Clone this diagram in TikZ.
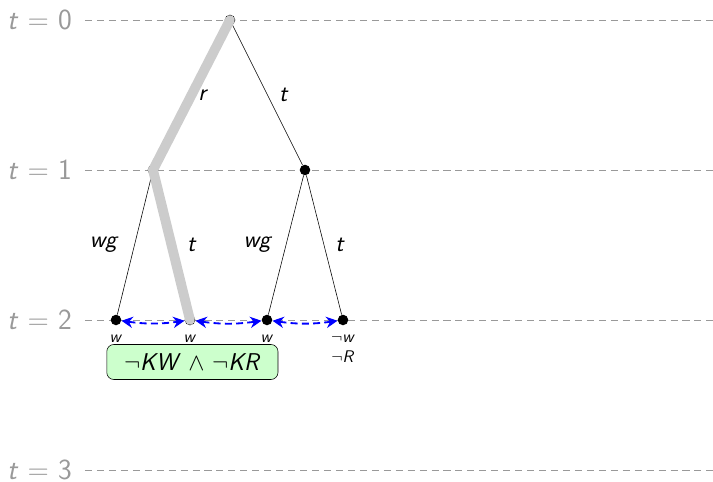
\documentclass[tikz,border=0pt]{standalone}
\usetikzlibrary{positioning,arrows.meta}
\newcommand{\sv}[1]{\textsl{#1}}
\begin{document}
\sffamily
\begin{tikzpicture}[
  dot/.style={circle, fill=black, inner sep=0pt, minimum size=7.5pt},
  levelline/.style={gray!80, dash pattern=on 5pt off 3.5pt, line width=0.6pt},
  levellabel/.style={gray!80, font=\huge\sffamily, anchor=east, inner sep=0pt},
  edgelabel/.style={font=\LARGE\sffamily},
  run/.style={line width=7pt, gray!40, line cap=round},
  indist/.style={<->, >={Stealth[length=8pt,width=8pt]}, blue, dash pattern=on 5pt off 3pt, line width=1.3pt, bend right=8},
  val/.style={font=\large\sffamily, align=center, inner sep=1pt},
  know/.style={draw, rounded corners=5pt, fill=green!20, font=\LARGE\sffamily, minimum width=4.28cm, minimum height=0.875cm, inner sep=1pt}
]
\useasboundingbox (-5.75,0.5) rectangle (12.075,-11.55);
% time levels
\foreach \i in {0,...,3}
  \draw[levelline] (-3.625,-3.75*\i) -- (12.075,-3.75*\i);
\foreach \i in {0,...,3}
  \node[levellabel] (lvl\i) at (-3.95,-3.75*\i) {\sv{t} = \i};
% states
\node[dot] (s0) at (0,0) {};
\node[dot] (s1) at (-1.925,-3.75) {};
\node[dot] (s2) at (1.875,-3.75) {};
\node[dot] (s3) at (-2.85,-7.5) {};
\node[dot] (s4) at (-1.0,-7.5) {};
\node[dot] (s5) at (0.925,-7.5) {};
\node[dot] (s6) at (2.825,-7.5) {};
% branches
\draw (s0) -- node[edgelabel, xshift=0.29cm] (l01) {\sv{r}} (s1);
\draw (s0) -- node[edgelabel, xshift=0.41cm] (l02) {\sv{t}} (s2);
\draw (s1) -- node[edgelabel, xshift=-0.76cm] (l13) {\sv{wg}} (s3);
\draw (s1) -- node[edgelabel, xshift=0.51cm] (l14) {\sv{t}} (s4);
\draw (s2) -- node[edgelabel, xshift=-0.7cm] (l25) {\sv{wg}} (s5);
\draw (s2) -- node[edgelabel, xshift=0.4cm] (l26) {\sv{t}} (s6);
% actual run
\draw[run] (s0.center) -- (s1.center) -- (s4.center);
% valuations
\node[val, below=0.2cm of s3] (v3) {\sv{w}\\\sv{R}};
\node[val, below=0.2cm of s4] (v4) {\sv{w}\\\sv{R}};
\node[val, below=0.2cm of s5] (v5) {\sv{w}\\$\neg$\sv{R}};
\node[val, below=0.2cm of s6] (v6) {$\neg$\sv{w}\\$\neg$\sv{R}};
\node[know] (k) at (-0.94,-8.55) {$\neg$\sv{KW} $\wedge$ $\neg$\sv{KR}};
% indistinguishable states
\draw[indist] (s3) to (s4);
\draw[indist] (s4) to (s5);
\draw[indist] (s5) to (s6);
\end{tikzpicture}
\end{document}
